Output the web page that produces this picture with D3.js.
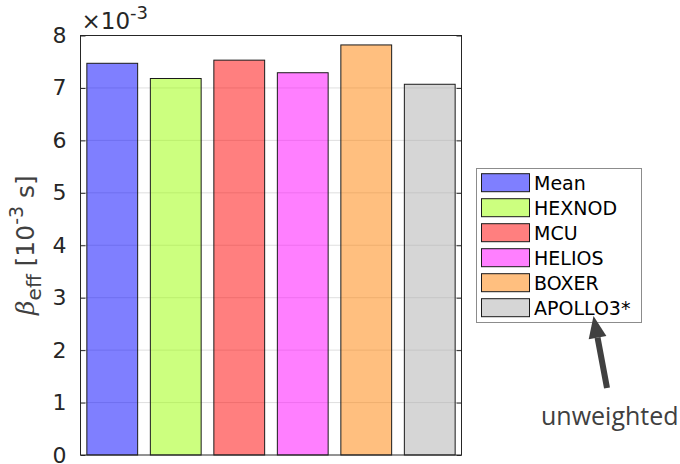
<!DOCTYPE html>
<html>
<head>
<meta charset="utf-8">
<script src="https://cdn.jsdelivr.net/npm/d3@7"></script>
<style>
  html, body { margin: 0; padding: 0; background: #fff; }
  svg { display: block; font-family: "DejaVu Sans", sans-serif; }
</style>
</head>
<body>
<svg id="chart" width="680" height="464"></svg>
<script>
// Effective delayed neutron fraction per code (units of 1e-3)
const codes = ["Mean", "HEXNOD", "MCU", "HELIOS", "BOXER", "APOLLO3*"];
const betaEff = [7.47, 7.18, 7.53, 7.29, 7.82, 7.07];
const baseColors = ["#0000ff", "#99ff00", "#ff0000", "#ff00ff", "#ff8000", "#aeaeae"];
const yTicks = [0, 1, 2, 3, 4, 5, 6, 7, 8];

const svg = d3.select("#chart");
const plot = { left: 80.5, right: 461.5, top: 35.5, bottom: 455 };

const x = d3.scaleBand()
  .domain(codes)
  .range([plot.left, plot.right])
  .paddingInner(0.2)
  .paddingOuter(0.1);

const y = d3.scaleLinear().domain([0, 8]).range([plot.bottom, plot.top]);

// horizontal grid
svg.append("g")
  .selectAll("line")
  .data(yTicks.slice(1, -1))
  .join("line")
  .attr("x1", plot.left).attr("x2", plot.right)
  .attr("y1", d => y(d)).attr("y2", d => y(d))
  .attr("stroke", "#262626").attr("stroke-opacity", 0.15).attr("stroke-width", 1);

// bars, half transparent so the grid shows through
svg.append("g")
  .selectAll("rect")
  .data(codes)
  .join("rect")
  .attr("x", d => x(d))
  .attr("width", x.bandwidth())
  .attr("y", (d, i) => y(betaEff[i]))
  .attr("height", (d, i) => y(0) - y(betaEff[i]))
  .attr("fill", (d, i) => baseColors[i])
  .attr("fill-opacity", 0.5)
  .attr("stroke", "#1a1a1a")
  .attr("stroke-width", 1);

// axes box
svg.append("rect")
  .attr("x", plot.left).attr("y", plot.top)
  .attr("width", plot.right - plot.left).attr("height", plot.bottom - plot.top)
  .attr("fill", "none").attr("stroke", "#262626").attr("stroke-width", 1);

// left axis with inward ticks
const yAxis = d3.axisLeft(y).tickValues(yTicks).tickSize(-5).tickPadding(14)
  .tickFormat(d3.format("d"));
const gy = svg.append("g").attr("transform", `translate(${plot.left},0)`).call(yAxis);
gy.select(".domain").remove();
gy.selectAll(".tick line").attr("stroke", "#262626");
gy.selectAll(".tick text")
  .attr("font-size", 22).attr("fill", "#262626")
  .attr("font-family", "DejaVu Sans, sans-serif");

// right-side inward ticks
const yAxisR = d3.axisRight(y).tickValues(yTicks).tickSize(-5).tickFormat("");
const gyr = svg.append("g").attr("transform", `translate(${plot.right},0)`).call(yAxisR);
gyr.select(".domain").remove();
gyr.selectAll(".tick line").attr("stroke", "#262626");

// exponent multiplier
const mult = svg.append("text")
  .attr("x", plot.left + 1).attr("y", 29)
  .attr("font-size", 23).attr("fill", "#262626");
mult.append("tspan").text("\u00d710");
mult.append("tspan").attr("dy", -10).attr("font-size", 18).text("-3");

// y-axis label
const ylab = svg.append("text")
  .attr("transform", "translate(34,245) rotate(-90)")
  .attr("text-anchor", "middle")
  .attr("font-size", 25).attr("fill", "#404040");
ylab.append("tspan").attr("font-style", "italic").attr("font-family", "DejaVu Serif, serif").text("\u03b2");
ylab.append("tspan").attr("dy", 7).attr("font-size", 20).text("eff");
ylab.append("tspan").attr("dy", -7).text(" [10");
ylab.append("tspan").attr("dy", -11).attr("font-size", 19).text("-3");
ylab.append("tspan").attr("dy", 11).text(" s]");

// legend
const leg = svg.append("g");
leg.append("rect")
  .attr("x", 476.5).attr("y", 168.5).attr("width", 165).attr("height", 154)
  .attr("fill", "#fff").attr("stroke", "#8c8c8c").attr("stroke-width", 1);
const rows = leg.selectAll("g.row").data(codes).join("g")
  .attr("transform", (d, i) => `translate(0,${182.7 + i * 25})`);
rows.append("rect")
  .attr("x", 481.5).attr("y", -9).attr("width", 48).attr("height", 18)
  .attr("fill", (d, i) => baseColors[i]).attr("fill-opacity", 0.5)
  .attr("stroke", "#1a1a1a").attr("stroke-width", 1);
rows.append("text")
  .attr("x", 534).attr("y", 7)
  .attr("font-size", 19).attr("fill", "#000")
  .text(d => d);

// annotation arrow
const ax0 = 607, ay0 = 388, ax1 = 593.5, ay1 = 316;
const ang = Math.atan2(ay1 - ay0, ax1 - ax0);
const headLen = 22, headW = 9;
const bx = ax1 - headLen * Math.cos(ang), by = ay1 - headLen * Math.sin(ang);
svg.append("line")
  .attr("x1", ax0).attr("y1", ay0).attr("x2", bx).attr("y2", by)
  .attr("stroke", "#404040").attr("stroke-width", 6);
svg.append("path")
  .attr("d", d3.line()([
    [ax1, ay1],
    [bx + headW * Math.sin(ang), by - headW * Math.cos(ang)],
    [bx - headW * Math.sin(ang), by + headW * Math.cos(ang)]
  ]) + "Z")
  .attr("fill", "#404040");

svg.append("text")
  .attr("x", 541).attr("y", 425)
  .attr("font-family", "Open Sans, sans-serif")
  .attr("font-size", 25).attr("fill", "#404040")
  .text("unweighted");
</script>
</body>
</html>
